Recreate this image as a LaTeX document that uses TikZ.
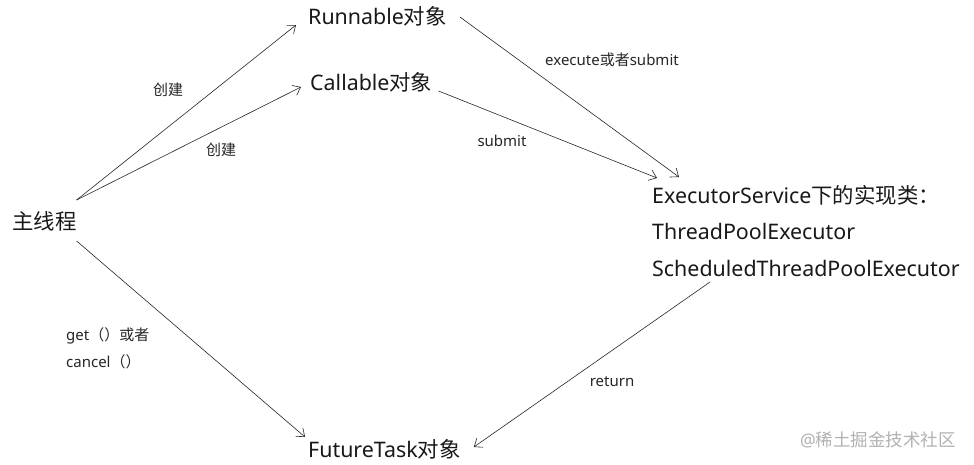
\documentclass[tikz,border=0pt]{standalone}
\usepackage{fontspec}
\setmainfont{Noto Sans}
\newfontfamily\cjk{Noto Sans CJK SC}
\newcommand{\zh}[1]{{\cjk #1}}
\usetikzlibrary{arrows.meta,calc}
\begin{document}
\begin{tikzpicture}[x=1pt,y=-1pt,
  big/.style={anchor=west,inner sep=0pt,font=\fontsize{21.4}{21.4}\selectfont,text=black!90},
  lbl/.style={inner sep=0pt,font=\fontsize{15}{15}\selectfont,text=black!85},
  arr/.style={line width=0.6pt,draw=black!85,-{Straight Barb[length=7pt,width=11pt,line width=0.6pt]}}]
\fill[white] (0,0) rectangle (974,465);
\useasboundingbox (0,0) rectangle (974,465);
% main nodes
\node[big] (main) at (12,221) {\zh{主线程}};
\node[big] (run)  at (308,16) {Runnable\zh{对象}};
\node[big] (call) at (310,82) {Callable\zh{对象}};
\node[big] (exe1) at (652,195) {ExecutorService\zh{下的实现类：}};
\node[big] (exe2) at (652,231) {ThreadPoolExecutor};
\node[big] (exe3) at (652,268) {ScheduledThreadPoolExecutor};
\node[big] (ft)   at (308,449) {FutureTask\zh{对象}};
% connectors
\draw[arr] ($(main.east)+(0,-21)$) -- ($(run.west)+(-12,9)$);
\draw[arr] ($(main.east)+(0,-21)$) -- ($(call.west)+(-9,5)$);
\draw[arr] ($(run.east)+(13,1)$) -- ($(exe1.west)+(27,-18)$);
\draw[arr] ($(call.east)+(6,9)$) -- ($(exe1.west)+(5,-17)$);
\draw[arr] ($(main.east)+(0,20)$) -- ($(ft.west)+(-3,-12)$);
\draw[arr] ($(exe3.west)+(58,14)$) -- ($(ft.east)+(13,-2)$);
% labels
\node[lbl] (l1) at (168,90) {\zh{创建}};
\node[lbl] (l2) at (221,150) {\zh{创建}};
\node[lbl] (l3) at (612,60) {execute\zh{或者}submit};
\node[lbl] (l4) at (502,141) {submit};
\node[lbl,anchor=west] (l5) at (66,336) {get\zh{（）或者}};
\node[lbl,anchor=west] (l6) at (66,362) {cancel\zh{（）}};
\node[lbl] (l7) at (612,382) {return};
\node[anchor=west,inner sep=0pt,font=\fontsize{17.5}{17.5}\selectfont,text=black!30] (wm) at (800,440) {@\zh{稀土掘金技术社区}};
\end{tikzpicture}
\end{document}
